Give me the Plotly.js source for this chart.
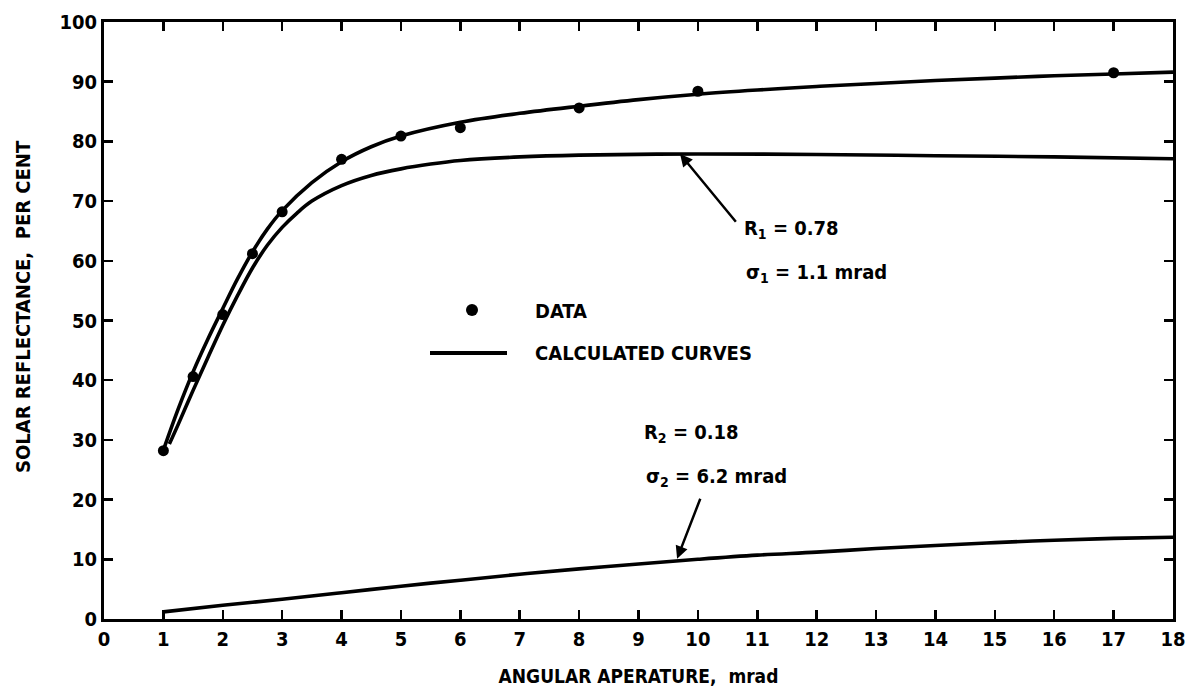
<!DOCTYPE html>
<html>
<head>
<meta charset="utf-8">
<script src="https://cdn.plot.ly/plotly-3.0.1.min.js"></script>
<style>
  html, body { margin: 0; padding: 0; background: #fff; }
  #chart { width: 1192px; height: 694px; }
</style>
</head>
<body>
<div id="chart"></div>
<script>
// Measured data points (DATA)
const dataX = [1, 1.5, 2, 2.5, 3, 4, 5, 6, 8, 10, 17];
const dataY = [28.2, 40.6, 51, 61.2, 68.2, 77, 80.9, 82.3, 85.6, 88.4, 91.5];

// Calculated curve fitted to data (sum of both components)
const fitX = [1, 1.25, 1.5, 1.75, 2, 2.25, 2.5, 2.75, 3, 3.5, 4, 4.5, 5, 6, 7, 8, 9, 10, 11, 12, 13, 14, 15, 16, 17, 18];
const fitY = [28.3, 35.2, 41.4, 46.9, 52, 57, 61.5, 65.3, 68.4, 73.1, 76.6, 79.1, 80.9, 83.2, 84.7, 85.9, 87, 87.9, 88.6, 89.2, 89.7, 90.2, 90.6, 91, 91.3, 91.6];

// Calculated curve R1 = 0.78, sigma1 = 1.1 mrad
const r1X = [1.1, 1.25, 1.5, 1.75, 2, 2.25, 2.5, 2.75, 3, 3.25, 3.5, 4, 4.5, 5, 5.5, 6, 7, 8, 10, 12, 14, 16, 18];
const r1Y = [29.3, 32.6, 38.3, 43.8, 49.2, 54.2, 58.8, 62.6, 65.6, 68.0, 70.0, 72.6, 74.3, 75.4, 76.2, 76.8, 77.4, 77.7, 77.9, 77.8, 77.6, 77.4, 77.1];

// Calculated curve R2 = 0.18, sigma2 = 6.2 mrad
const r2X = [1, 2, 3, 4, 5, 6, 7, 8, 9, 10, 11, 12, 13, 14, 15, 16, 17, 18];
const r2Y = [1.2, 2.3, 3.3, 4.4, 5.5, 6.5, 7.5, 8.4, 9.2, 10, 10.7, 11.2, 11.8, 12.3, 12.8, 13.2, 13.5, 13.7];

// Axis ticks
const xTicks = [0,1,2,3,4,5,6,7,8,9,10,11,12,13,14,15,16,17,18];
const yTicks = [0,10,20,30,40,50,60,70,80,90,100];

// Annotation arrows: head on curve, tail near label (data units)
const r1Arrow = {x: 9.7, y: 77.9, ax: 10.66, ay: 66.3};
const r2Arrow = {x: 9.65, y: 10.1, ax: 10.05, ay: 20.4};

const FONT = '"DejaVu Sans Condensed", "Liberation Sans Narrow", "DejaVu Sans", sans-serif';
const lineStyle = {color: '#000', width: 3.6, shape: 'spline', smoothing: 1};
const txtFont = {family: FONT, size: 20, color: '#000', weight: 'bold'};
const titleFont = {family: FONT, size: 19, color: '#000', weight: 'bold'};

const traces = [
  {x: fitX, y: fitY, mode: 'lines', line: lineStyle, showlegend: false, hoverinfo: 'skip'},
  {x: r1X, y: r1Y, mode: 'lines', line: lineStyle, showlegend: false, hoverinfo: 'skip'},
  {x: r2X, y: r2Y, mode: 'lines', line: lineStyle, showlegend: false, hoverinfo: 'skip'},
  {x: dataX, y: dataY, mode: 'markers', marker: {color: '#000', size: 11}, showlegend: false}
];

const axisCommon = {
  showline: true, linecolor: '#000', linewidth: 3, mirror: 'ticks',
  ticks: 'inside', ticklen: 9, tickwidth: 2.5, tickcolor: '#000',
  showgrid: false, zeroline: false,
  tickfont: {family: FONT, size: 20, color: '#000', weight: 'bold'}
};

const px = (x) => (x - 104) / 1069;
const py = (y) => (619 - y) / 597;

const layout = {
  width: 1192, height: 694,
  margin: {l: 104, r: 19, t: 22, b: 75},
  paper_bgcolor: '#fff', plot_bgcolor: '#fff',
  showlegend: false,
  xaxis: Object.assign({}, axisCommon, {
    range: [0, 18], tickvals: xTicks, ticktext: xTicks.map(String),
    title: {text: 'ANGULAR APERATURE,  mrad', font: titleFont, standoff: 20}
  }),
  yaxis: Object.assign({}, axisCommon, {
    range: [0, 100], tickvals: yTicks, ticktext: yTicks.map(String)
  }),
  shapes: [
    // legend line sample
    {type: 'line', xref: 'paper', yref: 'paper', x0: px(430), x1: px(507),
     y0: py(353), y1: py(353), line: {color: '#000', width: 4}},
    // legend dot sample
    {type: 'circle', xref: 'paper', yref: 'paper',
     x0: px(466), x1: px(478), y0: py(316), y1: py(304),
     fillcolor: '#000', line: {color: '#000', width: 0}}
  ],
  annotations: [
    // y-axis title
    {xref: 'paper', yref: 'paper', x: px(23), y: py(307), xanchor: 'center', yanchor: 'middle',
     text: 'SOLAR REFLECTANCE,  PER CENT', textangle: -90, showarrow: false, font: txtFont},
    {xref: 'paper', yref: 'paper', x: px(533), y: py(311), xanchor: 'left', yanchor: 'middle',
     text: 'DATA', showarrow: false, font: txtFont},
    {xref: 'paper', yref: 'paper', x: px(533), y: py(353), xanchor: 'left', yanchor: 'middle',
     text: 'CALCULATED CURVES', showarrow: false, font: txtFont},
    // R1 arrow
    {x: r1Arrow.x, y: r1Arrow.y, xref: 'x', yref: 'y', ax: r1Arrow.ax, ay: r1Arrow.ay, axref: 'x', ayref: 'y',
     text: '', showarrow: true, arrowhead: 2, arrowsize: 1, arrowwidth: 2.5, arrowcolor: '#000'},
    {xref: 'paper', yref: 'paper', x: px(742), y: py(229), xanchor: 'left', yanchor: 'middle', align: 'left',
     text: 'R<sub>1</sub> = 0.78', showarrow: false, font: txtFont},
    {xref: 'paper', yref: 'paper', x: px(744), y: py(273), xanchor: 'left', yanchor: 'middle', align: 'left',
     text: 'σ<sub>1</sub> = 1.1 mrad', showarrow: false, font: txtFont},
    // R2 arrow
    {x: r2Arrow.x, y: r2Arrow.y, xref: 'x', yref: 'y', ax: r2Arrow.ax, ay: r2Arrow.ay, axref: 'x', ayref: 'y',
     text: '', showarrow: true, arrowhead: 2, arrowsize: 1, arrowwidth: 2.5, arrowcolor: '#000'},
    {xref: 'paper', yref: 'paper', x: px(642), y: py(433), xanchor: 'left', yanchor: 'middle', align: 'left',
     text: 'R<sub>2</sub> = 0.18', showarrow: false, font: txtFont},
    {xref: 'paper', yref: 'paper', x: px(644), y: py(477), xanchor: 'left', yanchor: 'middle', align: 'left',
     text: 'σ<sub>2</sub> = 6.2 mrad', showarrow: false, font: txtFont}
  ]
};

Plotly.newPlot('chart', traces, layout, {displayModeBar: false, staticPlot: true});
</script>
</body>
</html>
